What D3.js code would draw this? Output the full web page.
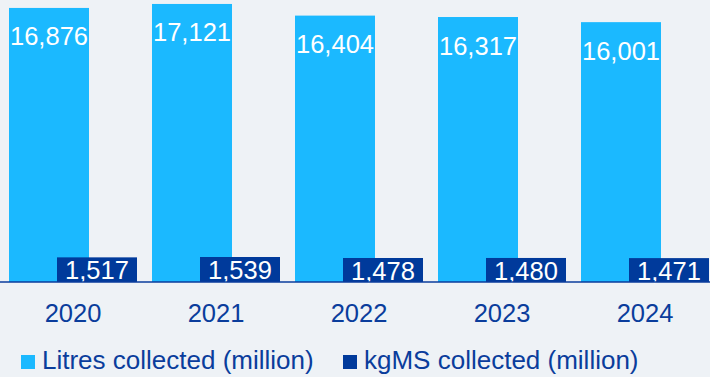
<!DOCTYPE html>
<html>
<head>
<meta charset="utf-8">
<script src="https://cdn.jsdelivr.net/npm/d3@7"></script>
<style>
  html, body { margin: 0; padding: 0; background: #eef2f6; }
  svg { display: block; font-family: "Liberation Sans", Arial, sans-serif; }
</style>
</head>
<body>
<div id="chart"></div>
<script>
// chart data
const years = ["2020", "2021", "2022", "2023", "2024"];
const litres = [16876, 17121, 16404, 16317, 16001];
const kgms = [1517, 1539, 1478, 1480, 1471];
const seriesNames = ["Litres collected (million)", "kgMS collected (million)"];
const colors = ["#1bb9ff", "#003a9b"];

const width = 710, height = 377;

const svg = d3.select("#chart").append("svg")
  .attr("width", width)
  .attr("height", height);

svg.append("rect").attr("width", width).attr("height", height).attr("fill", "#eef2f6");

// scales
const x = d3.scaleBand().domain(years).range([1.5, 716.5])
  .paddingInner(15 / 143).paddingOuter(7.5 / 143);
const barW = x.bandwidth() * 0.625;
const xSub = d3.scalePoint().domain(seriesNames).range([0, x.bandwidth() - barW]);
const y = d3.scaleLinear().domain([0, 17365]).range([282, 0]);

const data = years.map((yr, i) => ({ year: yr, values: [litres[i], kgms[i]] }));

// bars, series by series
seriesNames.forEach((s, si) => {
  const g = svg.append("g");
  g.selectAll("rect")
    .data(data)
    .join("rect")
    .attr("x", d => x(d.year) + xSub(s))
    .attr("y", d => y(d.values[si]))
    .attr("width", barW)
    .attr("height", d => y(0) - y(d.values[si]))
    .attr("fill", colors[si]);
  g.selectAll("text")
    .data(data)
    .join("text")
    .attr("x", d => x(d.year) + xSub(s) + barW / 2)
    .attr("y", d => y(d.values[si]) + (si === 0 ? 37.5 : 22))
    .attr("text-anchor", "middle")
    .attr("fill", "#ffffff")
    .attr("font-size", 25.5)
    .text(d => d3.format(",")(d.values[si]));
});

// baseline
svg.append("line")
  .attr("x1", 0).attr("x2", width)
  .attr("y1", y(0)).attr("y2", y(0))
  .attr("stroke", "#0a3d9c")
  .attr("stroke-width", 1.5);

// x axis labels
svg.append("g").selectAll("text")
  .data(years)
  .join("text")
  .attr("x", d => x(d) + x.bandwidth() / 2)
  .attr("y", 322)
  .attr("text-anchor", "middle")
  .attr("fill", "#0a3d9c")
  .attr("font-size", 25.5)
  .text(d => d);

// legend
const legendX = [21, 343];
const legend = svg.append("g").selectAll("g")
  .data(seriesNames)
  .join("g")
  .attr("transform", (d, i) => `translate(${legendX[i]},355)`);
legend.append("rect")
  .attr("width", 14).attr("height", 14)
  .attr("fill", (d, i) => colors[i]);
legend.append("text")
  .attr("x", 21).attr("y", 14)
  .attr("fill", "#0a3d9c")
  .attr("font-size", 26)
  .text(d => d);
</script>
</body>
</html>
